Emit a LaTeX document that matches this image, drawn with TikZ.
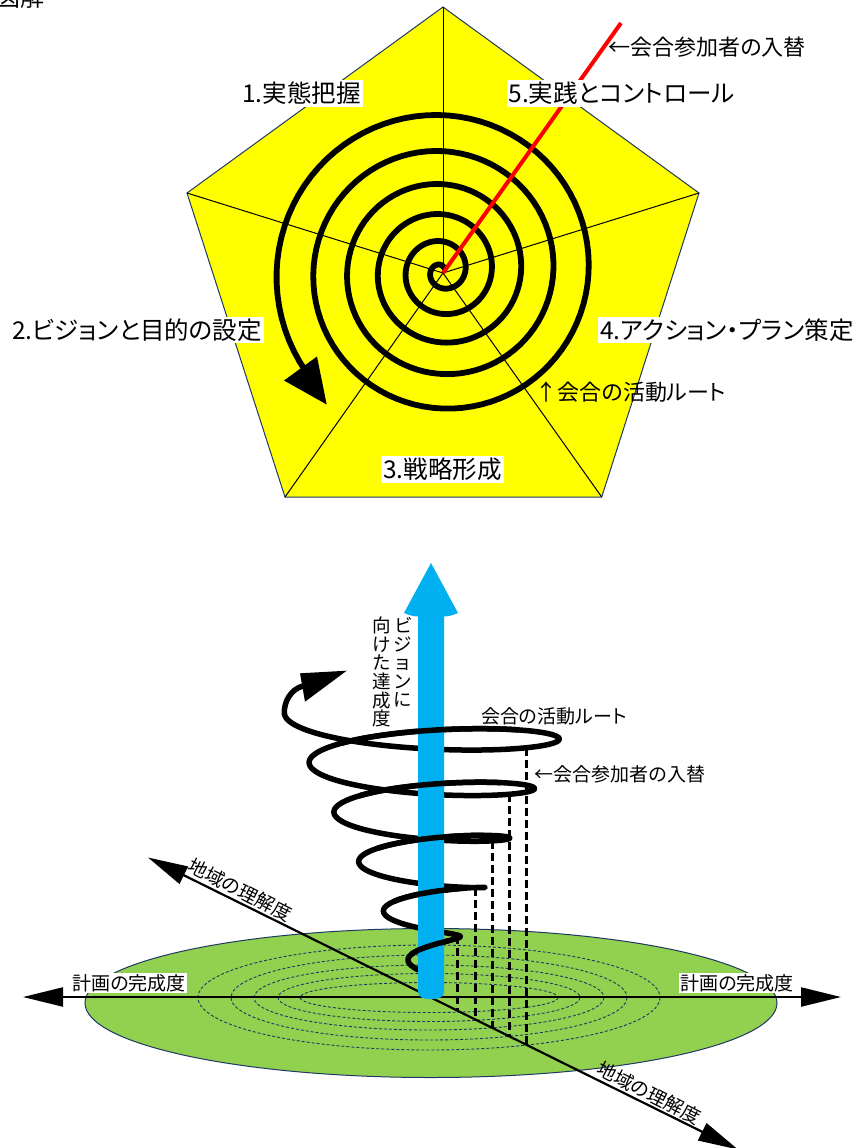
\documentclass[tikz,border=0pt]{standalone}
\usepackage{fontspec}
\newfontfamily\jp[RawFeature=+palt]{Noto Sans CJK JP}
\usetikzlibrary{arrows.meta}
\definecolor{pyellow}{HTML}{FFFF00}
\definecolor{pgreen}{HTML}{92D050}
\definecolor{pblue}{HTML}{00B0F0}
\definecolor{pnavy}{HTML}{1F3864}
\definecolor{pred}{HTML}{FF0000}
\begin{document}
\begin{tikzpicture}[x=1pt,y=-1pt,
  declare function={hR(\s)=32+12.4*(\s/180); hX(\s)=428+hR(\s)*cos(\s); hY(\s)=937-24.8*(\s/180)+(4+2.2*(\s/180))*sin(\s); sR(\s)=21.9*\s+1.485*\s*\s;},
  plab/.style={font={\jp\fontsize{24.5}{24.5}\selectfont}, fill=white, inner sep=2pt},
  note/.style={font={\jp\fontsize{22}{22}\selectfont}, inner sep=1pt},
  small/.style={font={\jp\fontsize{19}{19}\selectfont}, inner sep=1pt},
  vtext/.style={font={\jp\fontsize{18.5}{18.6}\selectfont}, align=center, inner sep=0pt, anchor=north},
  axl/.style={font={\jp\fontsize{19}{19}\selectfont}, inner sep=1.5pt},
  axisline/.style={line width=2.2pt, {Triangle[length=40pt,width=19pt]}-{Triangle[length=40pt,width=19pt]}},
  guide/.style={line width=2.6pt, dash pattern=on 8pt off 4pt},
  ring/.style={pnavy, line width=0.9pt, dash pattern=on 3pt off 2pt},
  coil/.style={line width=5.5pt, line join=round},
]
\useasboundingbox (0,0) rectangle (856,1148);
\fill[white] (0,0) rectangle (856,1148);

% ---------- title (cut off) ----------
\node[font={\jp\fontsize{24}{24}\selectfont}, inner sep=0pt] (ttl) at (21,-3) {図解};

% ---------- pentagon ----------
\coordinate (T) at (443,7);
\coordinate (R) at (699,193);
\coordinate (BR) at (601.7,497);
\coordinate (BL) at (285,497);
\coordinate (L) at (187,193);
\coordinate (C) at (443,273);
\fill[pyellow] (T) -- (R) -- (BR) -- (BL) -- (L) -- cycle;
\draw[pnavy, line width=1pt] (T) -- (R) -- (BR) -- (BL) -- (L) -- cycle;
\foreach \v in {T,R,BR,BL,L} \draw[line width=1pt] (C) -- (\v);

% spiral
\draw[line width=5.8pt, line join=round] plot[domain=0.02:5.605, samples=500, variable=\u]
  ({442+sR(\u)*cos(360*\u)},{271-sR(\u)*sin(360*\u)});
\fill (284,380.5) -- (326.7,404.5) -- (317,356.5) -- cycle;

% red line
\coordinate (redEnd) at (621,23);
\draw[pred, line width=4pt] (C) -- (redEnd);

% labels
\node[plab] (l1) at (301.5,93.5) {1.実態把握};
\node[plab] (l2) at (137,330) {2.ビジョンと目的の設定};
\node[plab] (l3) at (442.5,469.5) {3.戦略形成};
\node[plab] (l4) at (727,330) {4.アクション・プラン策定};
\node[plab] (l5) at (621.5,93.5) {5.実践とコントロール};
\node[note] (n1) at (707,47) {←会合参加者の入替};
\node[note] (n2) at (631,392) {↑会合の活動ルート};

% ---------- lower figure ----------
\coordinate (O) at (431,997);
\filldraw[fill=pgreen, draw=pnavy, line width=1pt] (431,1003) ellipse [x radius=346, y radius=74.5];
\foreach \rx/\ry in {231/52.5, 198/42.5, 175/32.5, 151/24, 129/15}
  \draw[ring] (429,997.5) ellipse [x radius=\rx, y radius=\ry];

\coordinate (hl) at (23,997);
\coordinate (hr) at (841,997);
\coordinate (dl) at (148,857.5);
\coordinate (dr) at (738,1149.5);
\draw[axisline] (hl) -- (hr);
\draw[axisline] (dl) -- (dr);

% helix (whole)
\draw[coil] plot[domain=-234:1620, samples=700, variable=\t] ({hX(\t)},{hY(\t)});
\draw[coil, line cap=round] (284.4,713.8) .. controls (283.5,702) and (291,689) .. (303,686);
\fill (300,673.3) -- (346.7,670.7) -- (305,701.7) -- cycle;

% blue arrow
\fill[pblue] (431,563) -- (458,613) .. controls (452,615.5) and (448,616.5) .. (444,616.5)
  -- (444,991) .. controls (444,997) and (440,999) .. (431,999)
  .. controls (422,999) and (418,997) .. (418,991)
  -- (418,616.5) .. controls (414,616.5) and (410,615.5) .. (404,613) -- cycle;

% helix front parts
\foreach \a/\b in {-135/-45, 225/315, 585/675, 945/1035, 1305/1395}
  \draw[coil] plot[domain=\a:\b, samples=40, variable=\t] ({hX(\t)},{hY(\t)});

% guides
\coordinate (g1t) at (457.7,935.6); \coordinate (g1b) at (457.7,1010.8);
\coordinate (g2t) at (475.3,887.7); \coordinate (g2b) at (475.3,1019.5);
\coordinate (g3t) at (492.3,840.8); \coordinate (g3b) at (492.3,1027.9);
\coordinate (g4t) at (509.3,794.1); \coordinate (g4b) at (509.3,1036.3);
\coordinate (g5t) at (526.7,747.5); \coordinate (g5b) at (526.7,1044.9);
\foreach \i in {1,...,5} \draw[guide] (g\i t) -- (g\i b);

% lower labels
\node[small] (n3) at (554,716) {会合の活動ルート};
\node[small] (n4) at (620,774) {←会合参加者の入替};
\node[vtext] (v1) at (403,617) {ビ\\ジ\\ョ\\ン\\に};
\node[vtext] (v2) at (382,617) {向\\け\\た\\達\\成\\度};
\node[axl, fill=white] (a1) at (129,983) {計画の完成度};
\node[axl, fill=white] (a2) at (737,983) {計画の完成度};
\node[axl, rotate=-27] (a3) at (240,890) {地域の理解度};
\node[axl, rotate=-27] (a4) at (649,1093) {地域の理解度};
\end{tikzpicture}
\end{document}
